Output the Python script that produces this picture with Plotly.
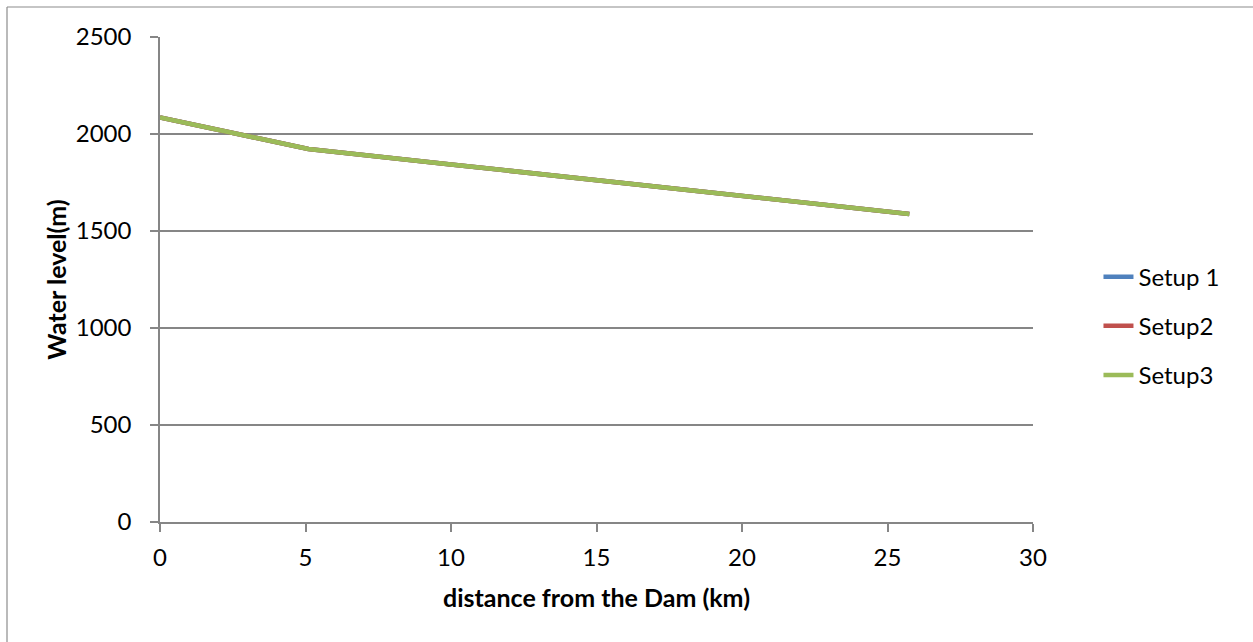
import plotly.graph_objects as go

# Distance from the dam (km) and simulated water levels (m) for each setup
distance_km = [0, 5.1, 10, 15, 20, 25.75]
setup1 = [2085, 1923, 1843, 1762, 1680, 1588]
setup2 = [2085, 1923, 1843, 1762, 1680, 1588]
setup3 = [2085, 1923, 1843, 1762, 1680, 1588]

series_names = ["Setup 1", "Setup2", "Setup3"]
series_colors = ["#4F81BD", "#C0504D", "#9BBB59"]

x_ticks = [0, 5, 10, 15, 20, 25, 30]
y_ticks = [0, 500, 1000, 1500, 2000, 2500]

FONT = "Lato, Carlito, Calibri, sans-serif"
GRID = "#868686"

fig = go.Figure()
for name, vals, color in zip(series_names, [setup1, setup2, setup3], series_colors):
    fig.add_trace(go.Scatter(
        x=distance_km, y=vals, name=name, mode="lines",
        legendgroup=name,
        line=dict(color=color, width=4.5),
    ))

L, R, T, B = 160, 220, 37, 120
W, H = 1253, 642
pw, ph = W - L - R, H - T - B

# Outer chart border: only its left and top edges fall inside the page
border_x = (7 - L) / pw
border_y = 1 + (T - 7) / ph
fig.add_shape(type="line", xref="paper", yref="paper",
              x0=border_x, x1=border_x, y0=-(B + 5) / ph, y1=border_y,
              line=dict(color="#8C8C8C", width=1.2), layer="below")
fig.add_shape(type="line", xref="paper", yref="paper",
              x0=border_x, x1=(W - L + 5) / pw, y0=border_y, y1=border_y,
              line=dict(color="#8C8C8C", width=1.2), layer="below")

fig.update_layout(
    width=W, height=H,
    margin=dict(l=L, r=R, t=T, b=B, pad=0),
    paper_bgcolor="white", plot_bgcolor="white",
    font=dict(family=FONT, size=24, color="black"),
    showlegend=True,
    legend=dict(
        x=1.075, xanchor="left", y=0.404, yanchor="middle",
        font=dict(family=FONT, size=24, color="black"),
        tracegroupgap=15, itemwidth=30,
        bgcolor="rgba(0,0,0,0)",
    ),
    xaxis=dict(
        range=[0, 30], tickvals=x_ticks,
        showgrid=False, zeroline=False,
        showline=True, linecolor=GRID, linewidth=1.5,
        ticks="outside", ticklen=8, tickcolor=GRID, tickwidth=1.5,
        ticklabelstandoff=5,
        tickfont=dict(family=FONT, size=24, color="black"),
        title=dict(text="<b>distance from the Dam (km)</b>", standoff=20,
                   font=dict(family=FONT, size=25, color="black")),
    ),
    yaxis=dict(
        range=[0, 2500], tickvals=y_ticks,
        showgrid=True, gridcolor=GRID, gridwidth=1.5,
        zeroline=False,
        showline=True, linecolor=GRID, linewidth=1.5,
        ticks="outside", ticklen=8, tickcolor=GRID, tickwidth=1.5,
        ticklabelstandoff=14,
        tickfont=dict(family=FONT, size=24, color="black"),
        title=dict(text="<b>Water level(m)</b>", standoff=2,
                   font=dict(family=FONT, size=25, color="black")),
    ),
)

fig.write_html("out.html")
